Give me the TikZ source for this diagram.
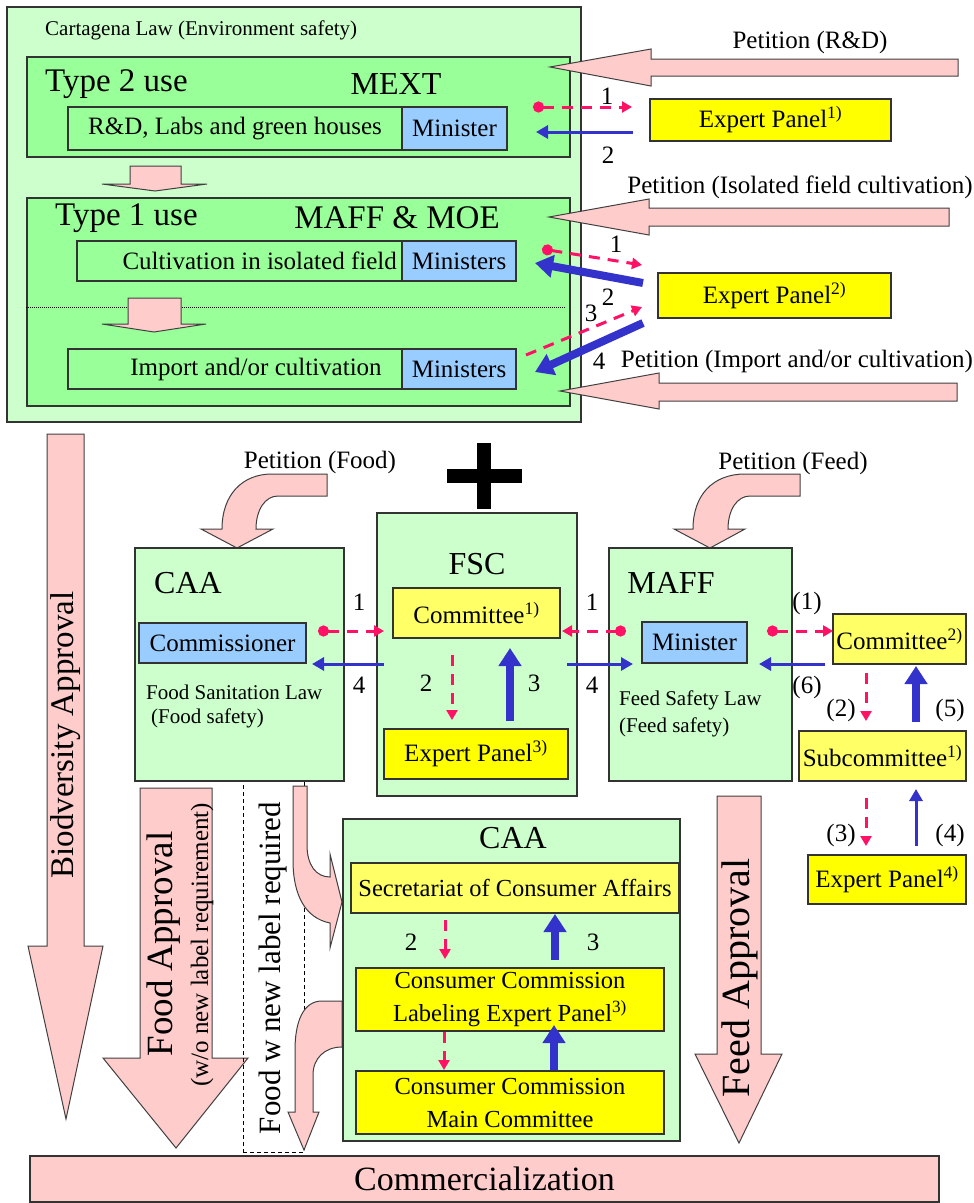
\documentclass[tikz,border=0pt]{standalone}
\usepackage{fontspec}
\setmainfont{Liberation Serif}
\usetikzlibrary{arrows.meta,fit,calc}
\definecolor{lg}{HTML}{CCFFCC}
\definecolor{mg}{HTML}{99FF99}
\definecolor{bl}{HTML}{99CCFF}
\definecolor{yl}{HTML}{FFFF00}
\definecolor{ly}{HTML}{FFFF66}
\definecolor{pinkc}{HTML}{FFCCCC}
\definecolor{pinkd}{HTML}{FF1166}
\definecolor{blueA}{HTML}{3333CC}
% box with centred text: name, fill, corner, corner, font style, text
\newcommand\bx[6]{\node[box,fill=#2,fit={(#3)(#4)}] (#1) {};
  \node[#5,txt,align=center] (#1t) at (#1.center) {#6};}
\begin{document}
\begin{tikzpicture}[x=1pt,y=-1pt,
  box/.style={draw=black!80,line width=1.1pt,inner sep=0pt},
  pk/.style={fill=pinkc,draw=black!75,line width=1pt},
  f20/.style={font=\fontsize{21}{25}\selectfont},
  f25/.style={font=\fontsize{25}{30}\selectfont},
  f24/.style={font=\fontsize{24.5}{33}\selectfont},
  f32/.style={font=\fontsize{32}{38}\selectfont},
  f33/.style={font=\fontsize{33}{40}\selectfont},
  f34/.style={font=\fontsize{34}{40}\selectfont},
  txt/.style={inner sep=0pt},
  pdash/.style={draw=pinkd,line width=3pt,dash pattern=on 11pt off 8pt,-{Triangle[length=10pt,width=11pt]}},
  pdot/.style={pdash,{Circle[length=11pt]}-{Triangle[length=10pt,width=11pt]}},
  bthin/.style={draw=blueA,line width=3pt,-{Triangle[length=12pt,width=13pt]}},
  bthick/.style={draw=blueA,line width=8pt,-{Triangle[length=18pt,width=22pt]}},
  lbl/.style={font=\fontsize{25}{30}\selectfont,inner sep=0pt}
]
\useasboundingbox (0,0) rectangle (974,1203);
\fill[white] (0,0) rectangle (974,1203);

% ---------- Cartagena law block ----------
\node[box,fill=lg,fit={(7,7)(581,422)}] (carta) {};
\node[f20,txt,anchor=west] (cartat) at (45,30) {Cartagena Law (Environment safety)};

\node[box,fill=mg,fit={(27,57)(570,157)}] (t2) {};
\node[f33,txt,anchor=west] (t2t) at (45,84) {Type 2 use};
\node[f32,txt] (mext) at (396,84) {MEXT};
\bx{rd}{mg}{68,107}{402,150}{f25}{R\&D, Labs and green houses}
\bx{min1}{bl}{402,107}{507,150}{f25}{Minister}

\draw[pk] (130,166) -- (181,166) -- (181,184) -- (207,184) -- (155,191) -- (102,184) -- (130,184) -- cycle;

\node[box,fill=mg,fit={(27,198)(570,406)}] (t1) {};
\node[f33,txt,anchor=west] (t1t) at (55,218) {Type 1 use};
\node[f33,txt] (maffmoe) at (397,218) {MAFF \& MOE};
\node[box,fill=mg,fit={(77,241)(402,281)}] (cult) {};
\node[f25,txt,anchor=east] (cultt) at (397,261) {Cultivation in isolated field};
\bx{min2}{bl}{402,241}{516,281}{f25}{Ministers}
\draw[line width=0.8pt,dash pattern=on 1pt off 1pt] (t1.west |- 0,307) -- (566,307);
\draw[pk] (128,298) -- (181,298) -- (181,324) -- (206,324) -- (154,332) -- (102,324) -- (128,324) -- cycle;
\node[box,fill=mg,fit={(68,349)(402,389)}] (imp) {};
\node[f25,txt] (impt) at (256,369) {Import and/or cultivation};
\bx{min3}{bl}{402,349}{516,389}{f25}{Ministers}

% ---------- petitions (top) ----------
\draw[pk] (958,59) -- (651,59) -- (651,49) -- (550,67) -- (651,86) -- (651,76) -- (958,76) -- cycle;
\node[f25,txt] (petrd) at (810,42) {Petition (R\&D)};
\bx{ep1}{yl}{650,99}{891,141}{f25}{Expert Panel\textsuperscript{1)}}
\coordinate (a1s) at (533,107); \coordinate (a1e) at (632,107);
\coordinate (a2s) at (633,132); \coordinate (a2e) at (536,132);
\draw[pdot] (a1s) -- (a1e);
\draw[bthin] (a2s) -- (a2e);
\node[lbl] (l1a) at (607,96) {1};
\node[lbl] (l2a) at (608,155) {2};

\draw[pk] (949,208) -- (649,208) -- (649,199) -- (549,217) -- (649,235) -- (649,226) -- (949,226) -- cycle;
\node[f25,txt] (petiso) at (800,187) {Petition (Isolated field cultivation)};
\bx{ep2}{yl}{658,273}{891,318}{f25}{Expert Panel\textsuperscript{2)}}
\coordinate (b1s) at (542,249); \coordinate (b1e) at (642,265);
\coordinate (b2s) at (643,283); \coordinate (b2e) at (535,263);
\coordinate (b3s) at (526,355); \coordinate (b3e) at (642,307);
\coordinate (b4s) at (643,323); \coordinate (b4e) at (535,372);
\draw[pdot] (b1s) -- (b1e);
\draw[bthick] (b2s) -- (b2e);
\draw[pdash] (b3s) -- (b3e);
\draw[bthick] (b4s) -- (b4e);
\node[lbl] (l1b) at (616,244) {1};
\node[lbl] (l2b) at (608,297) {2};
\node[lbl] (l3b) at (591,313) {3};
\node[lbl] (l4b) at (599,361) {4};

\draw[pk] (957,383) -- (659,383) -- (659,373) -- (560,391) -- (659,409) -- (659,401) -- (957,401) -- cycle;
\node[f25,txt] (petimp) at (797,361) {Petition (Import and/or cultivation)};

% ---------- approval arrows ----------
\draw[pk] (47,434) -- (84,434) -- (84,946) -- (103,946) -- (66,1119) -- (28,946) -- (47,946) -- cycle;
\node[f33,txt,rotate=90] (bio) at (66,735) {Biodversity Approval};

\draw[pk] (140,788) -- (212,788) -- (212,1058) -- (248,1058) -- (176,1148) -- (103,1058) -- (140,1058) -- cycle;
\node[txt,rotate=90,font=\fontsize{37}{44}\selectfont] (foodap) at (164,944) {Food Approval};
\node[f25,txt,rotate=90] (foodsub) at (202,945) {(w/o new label requirement)};

\draw[pk] (717,796) -- (761,796) -- (761,1054) -- (782,1054) -- (739,1143) -- (695,1054) -- (717,1054) -- cycle;
\node[txt,rotate=90,font=\fontsize{40}{48}\selectfont] (feedap) at (740,978) {Feed Approval};

% dashed box
\node[draw=black,line width=0.9pt,dash pattern=on 4pt off 3pt,inner sep=0pt,fit={(243,774)(304,1152)}] (fwbox) {};
\node[txt,rotate=90,font=\fontsize{31}{37}\selectfont] (fwt) at (273,968) {Food w new label required};

% bent arrows
\draw[pk] (293,786) -- (307,786) -- (307,845) .. controls (307,865) and (316,877) .. (330,877)
  -- (330,854) -- (342,902) -- (330,948) -- (330,923) .. controls (305,918) and (293,895) .. (293,860) -- cycle;
\draw[pk] (342,1001) -- (322,1001) .. controls (303,1001) and (295,1022) .. (295,1050) -- (295,1112) -- (288,1112)
  -- (304,1150) -- (319,1112) -- (313,1112) -- (313,1075) .. controls (313,1058) and (325,1047) .. (342,1047) -- cycle;

% commercialization
\bx{comm}{pinkc}{30,1156}{939,1202}{f34}{Commercialization}

% plus sign
\fill[black] (477,443) rectangle (491,509);
\fill[black] (447,469) rectangle (522,483);

% ---------- food petition ----------
\node[f25,txt] (petfood) at (320,462) {Petition (Food)};
\draw[pk] (327,474) -- (327,496) -- (278,496) .. controls (265,496) and (256,510) .. (256,529) -- (273,529)
  -- (237,548) -- (201,529) -- (222,529) .. controls (222,495) and (242,474) .. (272,474) -- cycle;

\node[box,fill=lg,fit={(135,548)(344,781)}] (caa1) {};
\node[f32,txt] (caa1t) at (188,583) {CAA};
\bx{comr}{bl}{139,623}{306,663}{f25}{Commissioner}
\node[f20,txt,anchor=west] (fsl) at (146,692) {Food Sanitation Law};
\node[f20,txt,anchor=west] (fsf) at (151,718) {(Food safety)};

\node[box,fill=lg,fit={(377,513)(577,796)}] (fsc) {};
\node[f32,txt] (fsct) at (477,564) {FSC};
\bx{com1}{ly}{393,588}{560,638}{f25}{Committee\textsuperscript{1)}}
\bx{ep3}{yl}{384,729}{568,779}{f25}{Expert Panel\textsuperscript{3)}}

\coordinate (c1s) at (318,631); \coordinate (c1e) at (384,631);
\coordinate (c4s) at (384,664); \coordinate (c4e) at (312,664);
\draw[pdot] (c1s) -- (c1e);
\draw[bthin] (c4s) -- (c4e);
\node[lbl] (lc1) at (359,602) {1};
\node[lbl] (lc4) at (359,685) {4};
\coordinate (f2s) at (452,655); \coordinate (f2e) at (452,720);
\coordinate (f3s) at (510,721); \coordinate (f3e) at (510,648);
\draw[pdash] (f2s) -- (f2e);
\draw[bthick] (f3s) -- (f3e);
\node[lbl] (lf2) at (426,683) {2};
\node[lbl] (lf3) at (534,683) {3};

% ---------- feed petition ----------
\node[f25,txt] (petfeed) at (793,463) {Petition (Feed)};
\draw[pk] (800,474) -- (800,496) -- (750,496) .. controls (737,496) and (728,510) .. (728,529) -- (745,529)
  -- (710,548) -- (674,529) -- (693,529) .. controls (693,495) and (713,474) .. (745,474) -- cycle;

\node[box,fill=lg,fit={(609,548)(792,781)}] (maff) {};
\node[f32,txt] (mafft) at (671,583) {MAFF};
\bx{min4}{bl}{642,622}{747,663}{f25}{Minister}
\node[f20,txt,anchor=west] (fdl) at (619,700) {Feed Safety Law};
\node[f20,txt,anchor=west] (fdf) at (619,727) {(Feed safety)};

\coordinate (m1s) at (626,631); \coordinate (m1e) at (562,631);
\coordinate (m4s) at (567,664); \coordinate (m4e) at (633,664);
\draw[pdot] (m1s) -- (m1e);
\draw[bthin] (m4s) -- (m4e);
\node[lbl] (lm1) at (592,602) {1};
\node[lbl] (lm4) at (592,685) {4};

\bx{com2}{ly}{833,614}{966,664}{f25}{Committee\textsuperscript{2)}}
\bx{sub1}{ly}{799,731}{966,781}{f25}{Subcommittee\textsuperscript{1)}}
\bx{ep4}{yl}{808,855}{966,904}{f25}{Expert Panel\textsuperscript{4)}}

\coordinate (g1s) at (767,631); \coordinate (g1e) at (833,631);
\coordinate (g6s) at (825,664); \coordinate (g6e) at (759,664);
\draw[pdot] (g1s) -- (g1e);
\draw[bthin] (g6s) -- (g6e);
\node[lbl] (lg1) at (807,603) {(1)};
\node[lbl] (lg6) at (807,687) {(6)};
\coordinate (g2s) at (866,673); \coordinate (g2e) at (866,721);
\coordinate (g5s) at (916,722); \coordinate (g5e) at (916,666);
\draw[pdash] (g2s) -- (g2e);
\draw[bthick] (g5s) -- (g5e);
\node[lbl] (lg2) at (841,710) {(2)};
\node[lbl] (lg5) at (950,710) {(5)};
\coordinate (g3s) at (866,798); \coordinate (g3e) at (866,846);
\coordinate (g4s) at (916,846); \coordinate (g4e) at (916,789);
\draw[pdash] (g3s) -- (g3e);
\draw[bthin] (g4s) -- (g4e);
\node[lbl] (lg3) at (841,835) {(3)};
\node[lbl] (lg4) at (950,835) {(4)};

% ---------- bottom CAA ----------
\node[box,fill=lg,fit={(343,819)(680,1141)}] (caa2) {};
\node[f32,txt] (caa2t) at (513,838) {CAA};
\bx{sec}{ly}{351,863}{679,913}{f24}{Secretariat of Consumer Affairs}
\bx{ccl}{yl}{356,968}{664,1031}{f24}{Consumer Commission\\Labeling Expert Panel\textsuperscript{3)}}
\bx{ccm}{yl}{356,1071}{664,1134}{f24}{Consumer Commission\\Main Committee}

\coordinate (h2s) at (445,920); \coordinate (h2e) at (445,959);
\coordinate (h3s) at (555,960); \coordinate (h3e) at (555,914);
\draw[pdash] (h2s) -- (h2e);
\draw[bthick] (h3s) -- (h3e);
\node[lbl] (lh2) at (411,942) {2};
\node[lbl] (lh3) at (593,942) {3};
\coordinate (k2s) at (444,1032); \coordinate (k2e) at (444,1070);
\coordinate (k3s) at (554,1070); \coordinate (k3e) at (554,1025);
\draw[pdash] (k2s) -- (k2e);
\draw[bthick] (k3s) -- (k3e);
\end{tikzpicture}
\end{document}
